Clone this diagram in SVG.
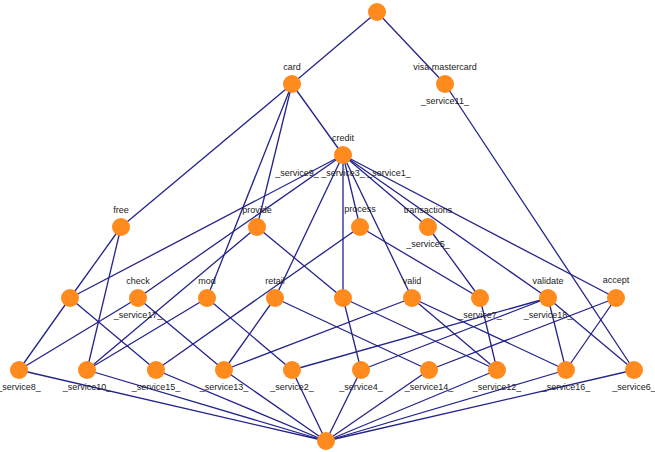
<svg xmlns="http://www.w3.org/2000/svg" width="655" height="452" viewBox="0 0 655 452">
<style>
.e{stroke:#23238c;stroke-width:1.3;fill:none}
.n{fill:#ff8a1e}
.t{font-family:"Liberation Sans",Arial,sans-serif;font-size:9px;fill:#1a1a1a;text-anchor:middle}
</style>
<rect width="655" height="452" fill="#ffffff"/>
<g id="edges" class="e">
<line x1="377" y1="12" x2="292" y2="84"/>
<line x1="377" y1="12" x2="445" y2="84"/>
<line x1="292" y1="84" x2="121" y2="227"/>
<line x1="292" y1="84" x2="257" y2="227"/>
<line x1="292" y1="84" x2="207" y2="298"/>
<line x1="292" y1="84" x2="343" y2="155"/>
<line x1="445" y1="84" x2="634" y2="370"/>
<line x1="343" y1="155" x2="70" y2="298"/>
<line x1="343" y1="155" x2="138" y2="298"/>
<line x1="343" y1="155" x2="275" y2="298"/>
<line x1="343" y1="155" x2="343" y2="298"/>
<line x1="343" y1="155" x2="360" y2="227"/>
<line x1="343" y1="155" x2="412" y2="298"/>
<line x1="343" y1="155" x2="428" y2="227"/>
<line x1="343" y1="155" x2="548" y2="298"/>
<line x1="343" y1="155" x2="616" y2="298"/>
<line x1="121" y1="227" x2="70" y2="298"/>
<line x1="121" y1="227" x2="87" y2="370"/>
<line x1="257" y1="227" x2="87" y2="370"/>
<line x1="257" y1="227" x2="343" y2="298"/>
<line x1="360" y1="227" x2="156" y2="370"/>
<line x1="360" y1="227" x2="480" y2="298"/>
<line x1="428" y1="227" x2="480" y2="298"/>
<line x1="70" y1="298" x2="19" y2="370"/>
<line x1="70" y1="298" x2="156" y2="370"/>
<line x1="138" y1="298" x2="19" y2="370"/>
<line x1="138" y1="298" x2="224" y2="370"/>
<line x1="207" y1="298" x2="87" y2="370"/>
<line x1="207" y1="298" x2="292" y2="370"/>
<line x1="275" y1="298" x2="224" y2="370"/>
<line x1="275" y1="298" x2="429" y2="370"/>
<line x1="343" y1="298" x2="361" y2="370"/>
<line x1="343" y1="298" x2="497" y2="370"/>
<line x1="412" y1="298" x2="224" y2="370"/>
<line x1="412" y1="298" x2="497" y2="370"/>
<line x1="412" y1="298" x2="566" y2="370"/>
<line x1="480" y1="298" x2="497" y2="370"/>
<line x1="548" y1="298" x2="292" y2="370"/>
<line x1="548" y1="298" x2="361" y2="370"/>
<line x1="548" y1="298" x2="566" y2="370"/>
<line x1="548" y1="298" x2="634" y2="370"/>
<line x1="616" y1="298" x2="429" y2="370"/>
<line x1="616" y1="298" x2="566" y2="370"/>
<line x1="326" y1="441" x2="19" y2="370"/>
<line x1="326" y1="441" x2="87" y2="370"/>
<line x1="326" y1="441" x2="156" y2="370"/>
<line x1="326" y1="441" x2="224" y2="370"/>
<line x1="326" y1="441" x2="292" y2="370"/>
<line x1="326" y1="441" x2="361" y2="370"/>
<line x1="326" y1="441" x2="429" y2="370"/>
<line x1="326" y1="441" x2="497" y2="370"/>
<line x1="326" y1="441" x2="566" y2="370"/>
<line x1="326" y1="441" x2="634" y2="370"/>
</g>
<g id="top"><circle class="n" cx="377" cy="12" r="9"/></g>
<g id="card"><circle class="n" cx="292" cy="84" r="9"/><text class="t" x="292" y="70">card</text></g>
<g id="visa-mastercard"><circle class="n" cx="445" cy="84" r="9"/><text class="t" x="445" y="70">visa mastercard</text><text class="t" x="445" y="104">_service11_</text></g>
<g id="credit"><circle class="n" cx="343" cy="155" r="9"/><text class="t" x="343" y="141">credit</text><text class="t" x="343" y="176">_service9_ _service3_ _service1_</text></g>
<g id="free"><circle class="n" cx="121" cy="227" r="9"/><text class="t" x="121" y="213">free</text></g>
<g id="provide"><circle class="n" cx="257" cy="227" r="9"/><text class="t" x="257" y="213">provide</text></g>
<g id="process"><circle class="n" cx="360" cy="227" r="9"/><text class="t" x="360" y="212">process</text></g>
<g id="transactions"><circle class="n" cx="428" cy="227" r="9"/><text class="t" x="428" y="213">transactions</text><text class="t" x="428" y="247">_service5_</text></g>
<g id="n-a"><circle class="n" cx="70" cy="298" r="9"/></g>
<g id="check"><circle class="n" cx="138" cy="298" r="9"/><text class="t" x="138" y="284">check</text><text class="t" x="138" y="318">_service17_</text></g>
<g id="mod"><circle class="n" cx="207" cy="298" r="9"/><text class="t" x="207" y="284">mod</text></g>
<g id="retail"><circle class="n" cx="275" cy="298" r="9"/><text class="t" x="275" y="284">retail</text></g>
<g id="n-b"><circle class="n" cx="343" cy="298" r="9"/></g>
<g id="valid"><circle class="n" cx="412" cy="298" r="9"/><text class="t" x="412" y="284">valid</text></g>
<g id="service7"><circle class="n" cx="480" cy="298" r="9"/><text class="t" x="480" y="318">_service7_</text></g>
<g id="validate"><circle class="n" cx="548" cy="298" r="9"/><text class="t" x="548" y="284">validate</text><text class="t" x="548" y="318">_service18_</text></g>
<g id="accept"><circle class="n" cx="616" cy="298" r="9"/><text class="t" x="616" y="283">accept</text></g>
<g id="service8"><circle class="n" cx="19" cy="370" r="9"/><text class="t" x="19" y="390">_service8_</text></g>
<g id="service10"><circle class="n" cx="87" cy="370" r="9"/><text class="t" x="87" y="390">_service10_</text></g>
<g id="service15"><circle class="n" cx="156" cy="370" r="9"/><text class="t" x="156" y="390">_service15_</text></g>
<g id="service13"><circle class="n" cx="224" cy="370" r="9"/><text class="t" x="224" y="390">_service13_</text></g>
<g id="service2"><circle class="n" cx="292" cy="370" r="9"/><text class="t" x="292" y="390">_service2_</text></g>
<g id="service4"><circle class="n" cx="361" cy="370" r="9"/><text class="t" x="361" y="390">_service4_</text></g>
<g id="service14"><circle class="n" cx="429" cy="370" r="9"/><text class="t" x="429" y="390">_service14_</text></g>
<g id="service12"><circle class="n" cx="497" cy="370" r="9"/><text class="t" x="497" y="390">_service12_</text></g>
<g id="service16"><circle class="n" cx="566" cy="370" r="9"/><text class="t" x="566" y="390">_service16_</text></g>
<g id="service6"><circle class="n" cx="634" cy="370" r="9"/><text class="t" x="634" y="390">_service6_</text></g>
<g id="bottom"><circle class="n" cx="326" cy="441" r="9"/></g>
</svg>
